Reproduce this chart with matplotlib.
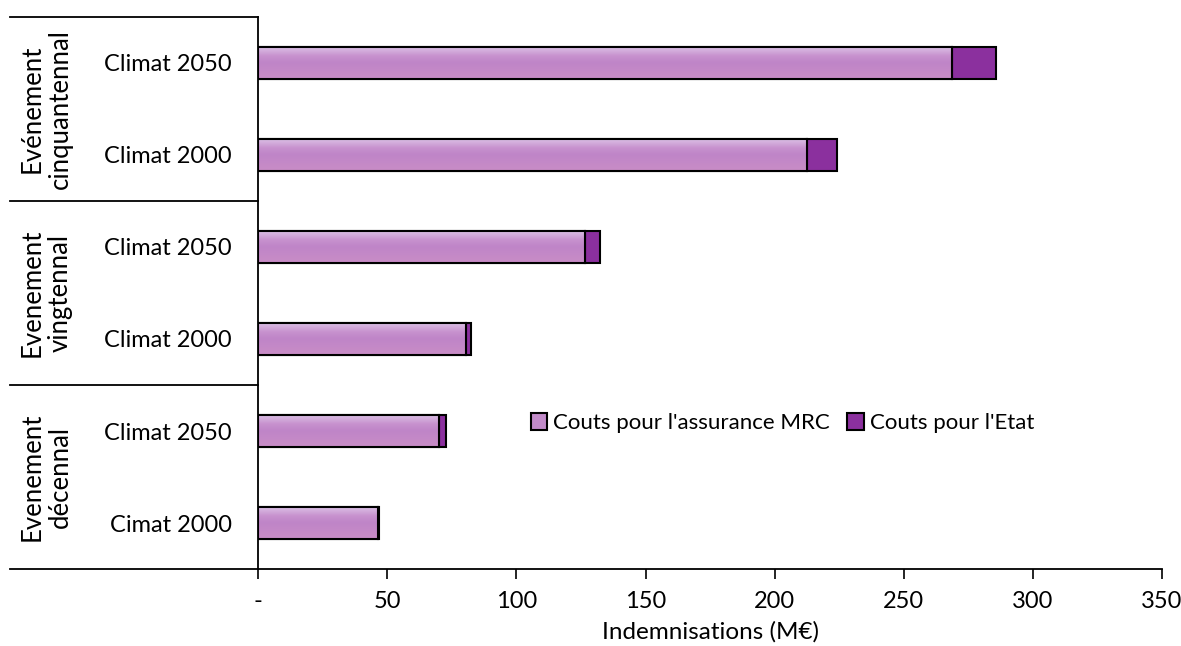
import matplotlib.pyplot as plt
import numpy as np
from matplotlib.colors import LinearSegmentedColormap

plt.rcParams['font.family'] = ['Lato', 'DejaVu Sans']

# bottom to top
scenarios = ['Cimat 2000', 'Climat 2050', 'Climat 2000', 'Climat 2050', 'Climat 2000', 'Climat 2050']
groups = ['Evenement\ndécennal', 'Evenement\nvingtennal', 'Evénement\ncinquantennal']
cout_mrc = [46.3, 70.0, 80.4, 126.6, 212.4, 268.6]
cout_etat = [0.6, 2.7, 2.2, 5.9, 11.9, 17.1]
xticks = [0, 50, 100, 150, 200, 250, 300, 350]
xticklabels = ['-', '50', '100', '150', '200', '250', '300', '350']

light = '#c28bc9'
dark = '#8b309e'
grad = LinearSegmentedColormap.from_list('g', [(0, '#ddc4e7'), (0.3, '#c791ce'), (0.5, '#bf85c8'), (1, '#c98dc6')])

fig = plt.figure(figsize=(11.81, 6.46), dpi=100)
ax = fig.add_axes([0.2185, 0.119, 0.7655, 0.855])

y = np.arange(len(scenarios))
h = 0.35
bars = ax.barh(y, cout_mrc, height=h, color=light, edgecolor='black', linewidth=1.5,
               label="Couts pour l'assurance MRC", zorder=2)
ax.barh(y, cout_etat, left=cout_mrc, height=h, color=dark, edgecolor='black', linewidth=1.5,
        label="Couts pour l'Etat", zorder=2)

# excel-like vertical gradient on the light bars
g = np.linspace(0, 1, 100).reshape(-1, 1)
for b in bars:
    x0, y0 = b.get_x(), b.get_y()
    im = ax.imshow(g, cmap=grad, aspect='auto', origin='upper',
                   extent=[x0, x0 + b.get_width(), y0, y0 + b.get_height()], zorder=2.5)
    im.set_clip_path(b)
    ax.add_patch(plt.Rectangle((x0, y0), b.get_width(), b.get_height(), fill=False,
                               edgecolor='black', linewidth=1.5, zorder=3))

ax.set_xlim(0, 350)
ax.set_ylim(-0.5, 5.5)

ax.set_yticks(y)
ax.set_yticklabels(scenarios, fontsize=17)
ax.tick_params(axis='y', length=0, pad=19)
ax.set_xticks(xticks)
ax.set_xticklabels(xticklabels, fontsize=17)
ax.tick_params(axis='x', direction='out', length=7, width=1.2, pad=9)
ax.set_xlabel('Indemnisations (M€)', fontsize=17.5, labelpad=6)

for s in ['top', 'right']:
    ax.spines[s].set_visible(False)
ax.spines['left'].set_linewidth(1.3)
ax.spines['bottom'].set_linewidth(1.3)

# group separators and labels on the left
trans = ax.get_yaxis_transform()
for yb in [-0.5, 1.5, 3.5, 5.5]:
    ax.plot([-0.274, 0], [yb, yb], color='black', linewidth=1.3, transform=trans, clip_on=False)
for i, name in enumerate(groups):
    ax.text(-0.234, 2 * i + 0.5, name, rotation=90, ha='center', va='center',
            fontsize=18.5, transform=trans, linespacing=1.15)

ax.legend(loc='center', bbox_to_anchor=(0.58, 0.264), ncol=2, frameon=False, fontsize=16,
          handlelength=0.75, handleheight=0.75, handletextpad=0.25, columnspacing=0.8)

fig.savefig('out.png', dpi=100)
